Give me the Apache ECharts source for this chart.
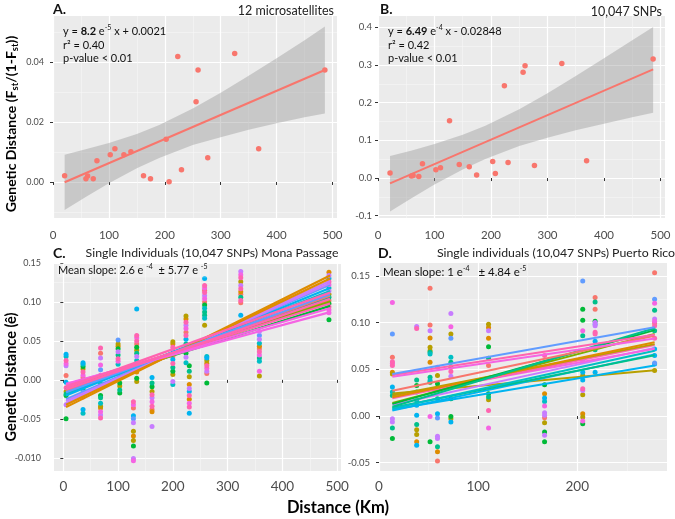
<!DOCTYPE html>
<html><head><meta charset="utf-8">
<script src="https://cdn.jsdelivr.net/npm/echarts@6/dist/echarts.min.js"></script>
<style>html,body{margin:0;padding:0;background:#fff}#c{width:675px;height:519px}</style>
</head><body><div id="c"></div>
<script>
// ---------- data ----------
const palette = ['#F8766D','#DE8C00','#B79F00','#7CAE00','#00BA38','#00C08B','#00BFC4','#00B4F0','#619CFF','#C77CFF','#F564E3','#FF64B0'];

// Panel A: 12 microsatellites
const aX = [20.8, 58.9, 61.9, 72, 78.6, 102.4, 110.7, 126.8, 139.3, 161.9, 174.4, 202.4, 207.7, 223.2, 229.8, 255.9, 259.5, 276.8, 325, 367.9, 486.3];
const aY = [0.0021, 0.0011, 0.0020, 0.0011, 0.0071, 0.0091, 0.0111, 0.0091, 0.0101, 0.0021, 0.0011, 0.0142, 0.0001, 0.0418, 0.0041, 0.0267, 0.0373, 0.0081, 0.0428, 0.0111, 0.0373];
const aFitX = [20.8, 486.3];
const aFitY = [-0.0001, 0.0373];
const aBandX = [20.8, 60, 100, 150, 190, 250, 300, 350, 400, 450, 486.3];
const aBandUp = [0.0091, 0.0110, 0.0130, 0.0160, 0.0190, 0.0245, 0.0297, 0.0354, 0.0412, 0.0472, 0.0518];
const aBandLo = [-0.0093, -0.0048, -0.0004, 0.0046, 0.0080, 0.0123, 0.0149, 0.0174, 0.0196, 0.0216, 0.0228];

// Panel B: 10,047 SNPs
const bX = [21.3, 59.2, 62.1, 72.2, 78.7, 102.4, 110.6, 126.6, 143.8, 161.5, 174.6, 203, 207.7, 223.7, 230.2, 256.8, 260.3, 276.9, 325.4, 369.2, 487];
const bY = [0.0133, 0.0053, 0.0071, 0.0044, 0.038, 0.022, 0.0274, 0.152, 0.036, 0.030, 0.008, 0.044, 0.012, 0.245, 0.041, 0.281, 0.298, 0.033, 0.304, 0.046, 0.316];
const bFitX = [21.3, 487];
const bFitY = [-0.0142, 0.2885];
const bBandX = [21.3, 60, 100, 150, 190, 250, 300, 350, 400, 450, 487];
const bBandUp = [0.0585, 0.0734, 0.0901, 0.1149, 0.1388, 0.1828, 0.2252, 0.2707, 0.3178, 0.3656, 0.401];
const bBandLo = [-0.0885, -0.0526, -0.0173, 0.0229, 0.0508, 0.0848, 0.1072, 0.1267, 0.1444, 0.1616, 0.173];

// Panel C: single individuals, Mona Passage  ([genetic distance, individual])
const cSites = [5, 36, 68, 100, 103, 128, 134, 162, 200, 224, 230, 258, 262, 324, 358, 485];
const cPts = [
  [[0.033,7],[0.030,6],[0.025,11],[0.021,10],[0.018,9],[0.0055,0],[-0.003,7],[-0.010,11],[-0.015,2],[-0.018,5],[-0.020,4],[-0.032,9],[-0.050,4]],
  [[0.022,7],[0.020,6],[0.017,4],[0.014,2],[0.010,11],[0.006,10],[0.003,0],[-0.005,9],[-0.012,5],[-0.016,8],[-0.022,11],[-0.038,7],[-0.043,6]],
  [[0.041,11],[0.034,0],[0.028,9],[0.019,10],[0.013,8],[0.006,11],[-0.005,5],[-0.020,4],[-0.023,5],[-0.030,6],[-0.034,2],[-0.036,1],[-0.041,10],[-0.045,9],[-0.049,11]],
  [[0.051,8],[0.046,2],[0.043,1],[0.040,4],[0.036,9],[0.032,5],[0.027,11],[0.024,10],[0.020,6]],
  [[0.012,7],[0.005,0],[-0.004,4],[-0.008,2],[-0.013,5],[-0.017,4]],
  [[-0.028,11],[-0.032,10],[-0.036,0],[-0.046,7],[-0.050,8],[-0.055,9],[-0.066,2],[-0.072,1],[-0.078,2],[-0.085,4],[-0.101,9],[-0.104,10]],
  [[0.091,7],[0.057,11],[0.054,10],[0.050,11],[0.046,0],[0.042,4],[0.038,2],[0.034,5],[0.030,9],[0.025,6],[0.020,7],[0.010,1],[0.002,4],[-0.002,2]],
  [[0.003,7],[-0.004,5],[-0.009,4],[-0.015,2],[-0.019,11],[-0.023,9],[-0.028,10],[-0.034,11],[-0.038,0],[-0.041,1],[-0.060,9]],
  [[0.049,2],[0.046,1],[0.042,11],[0.038,9],[0.034,10],[0.030,0],[0.026,7],[0.021,11],[0.016,5],[0.011,4],[0.007,2],[-0.002,9],[-0.006,6]],
  [[0.082,2],[0.078,1],[0.074,11],[0.070,9],[0.066,10],[0.061,0],[0.057,11],[0.052,7],[0.046,5],[0.040,1],[0.034,4],[0.029,9],[0.022,6]],
  [[0.018,4],[0.011,5],[0.004,2],[-0.006,1],[-0.011,9],[-0.015,7],[-0.020,11],[-0.025,1],[-0.030,10],[-0.035,11],[-0.043,7]],
  [[0.130,7],[0.121,11],[0.118,10],[0.115,0],[0.112,11],[0.108,9],[0.104,10],[0.100,0],[0.096,4],[0.092,6],[0.087,5],[0.083,5],[0.079,6],[0.070,2]],
  [[0.030,6],[0.028,7],[0.025,2],[0.021,1],[0.018,11],[0.015,10],[0.011,9],[0.008,0],[-0.004,4]],
  [[0.139,9],[0.135,10],[0.131,11],[0.126,2],[0.121,9],[0.117,11],[0.113,1],[0.110,0],[0.106,5],[0.102,11],[0.099,0],[0.083,7]],
  [[0.062,9],[0.057,8],[0.052,9],[0.047,6],[0.043,1],[0.040,0],[0.036,11],[0.032,10],[0.028,5],[0.024,6],[0.011,10],[0.005,2]],
  [[0.138,1],[0.134,9],[0.130,7],[0.126,11],[0.122,10],[0.118,6],[0.114,9],[0.110,2],[0.106,5],[0.102,0],[0.098,4],[0.094,11],[0.090,10],[0.086,10],[0.077,4]]
];
const cLineX = [5, 487];
// [y at left end, y at right end, individual]
const cLines = [
  [-0.012,0.095,4],[-0.016,0.102,2],[-0.010,0.100,3],[-0.015,0.106,5],[-0.014,0.108,0],
  [-0.018,0.114,6],[-0.020,0.118,7],[-0.025,0.122,8],[-0.027,0.124,9],[-0.030,0.127,9],
  [-0.032,0.130,1],[-0.035,0.134,1],[-0.016,0.110,8],[-0.005,0.087,10],[-0.006,0.092,10],
  [-0.008,0.098,11],[-0.012,0.104,11],[-0.010,0.112,11]
];

// Panel D: single individuals, Puerto Rico
const dSites = [13.5, 38, 51.5, 59, 72.5, 110.5, 167, 205.5, 218, 278];
const dPts = [
  [[0.1215,10],[0.0878,8],[0.0629,0],[0.058,11],[0.0565,10],[0.054,11],[0.0469,1],[0.0451,2],[0.031,7],[0.0256,6],[0.022,5],[-0.003,9],[-0.0064,9],[-0.0128,5],[-0.0242,4]],
  [[0.0959,9],[0.0938,11],[0.0387,5],[0.0327,4],[0.0256,5],[0.0167,6],[0.0114,7],[0.0007,7],[-0.0092,5],[-0.0146,2],[-0.0199,2],[-0.0277,1],[-0.0313,7]],
  [[0.1368,0],[0.0974,0],[0.0913,9],[0.0835,1],[0.0736,2],[0.070,2],[0.0682,5],[0.0665,6],[0.0576,1],[0.0416,5],[0.038,6],[0.0362,4],[-0.0004,10],[-0.0277,4]],
  [[0.0522,11],[0.0434,2],[0.0345,4],[0.0185,5],[0.0025,7],[-0.0021,8],[-0.0217,9],[-0.0242,9],[-0.033,5],[-0.0384,1],[-0.0483,0]],
  [[0.1098,9],[0.0956,10],[0.0878,2],[0.0832,8],[0.0629,6],[0.0576,5],[0.0522,2],[0.0476,11],[0.0426,9],[0.0185,4],[-0.0004,4],[-0.0028,2],[-0.0064,7]],
  [[0.0984,2],[0.0949,1],[0.0913,9],[0.0832,1],[0.0743,4],[0.0618,5],[0.054,0],[0.0238,4],[0.0203,5],[0.0174,2],[0.006,11],[-0.0128,10]],
  [[0.0647,11],[0.0334,4],[0.0238,1],[0.0192,7],[0.0156,6],[0.0107,10],[0.0036,9],[0.0007,9],[-0.0018,0],[-0.0071,2],[-0.0171,4],[-0.0206,9],[-0.0277,4]],
  [[0.1446,8],[0.1144,4],[0.1027,4],[0.0913,10],[0.086,5],[0.0593,9],[0.0469,7],[0.0434,2],[0.0387,7],[0.0291,11],[0.0274,9],[0.0227,2],[0.0025,1],[-0.0011,2],[-0.0053,10],[-0.0082,4]],
  [[0.1269,0],[0.1222,5],[0.1144,0],[0.1016,4],[0.1002,9],[0.0984,8],[0.0967,9],[0.0896,11],[0.0878,11],[0.080,7],[0.0711,5],[0.0469,7]],
  [[0.1535,0],[0.1251,8],[0.1208,10],[0.1134,5],[0.1038,9],[0.1013,10],[0.0995,0],[0.0967,11],[0.0913,5],[0.0832,11],[0.0718,7],[0.0647,7],[0.0569,8],[0.0558,7],[0.0487,2]]
];
const dLineX = [13.5, 278];
const dLines = [
  [0.024,0.049,2],[0.007,0.054,7],[0.006,0.066,7],[0.009,0.065,5],[0.008,0.070,6],
  [0.012,0.073,9],[0.021,0.072,10],[0.019,0.076,11],[0.022,0.077,2],[0.020,0.079,1],
  [0.014,0.088,3],[0.013,0.092,4],[0.010,0.094,5],[0.027,0.086,0],[0.042,0.083,10],
  [0.044,0.087,11],[0.045,0.095,8]
];

// tick values / labels
const abXTicks = [0, 100, 200, 300, 400, 500];
const abXLabels = ['0', '100', '200', '300', '400', '500'];
const aYTicks = [0, 0.02, 0.04];
const aYLabels = ['0.00', '0.02', '0.04'];
const bYTicks = [-0.1, 0, 0.1, 0.2, 0.3, 0.4];
const bYLabels = ['-0.1', '0.0', '0.1', '0.2', '0.3', '0.4'];
const cXTicks = [0, 100, 200, 300, 400, 500];
const cXLabels = ['0', '100', '200', '300', '400', '500'];
const cYTicks = [-0.1, -0.05, 0, 0.05, 0.1, 0.15];
const cYLabels = ['-0.010', '-0.05', '0.00', '0.05', '0.10', '0.15'];
const dXTicks = [0, 100, 200];
const dXLabels = ['0', '100', '200'];
const dYTicks = [-0.05, 0, 0.05, 0.1, 0.15];
const dYLabels = ['-0.05', '0.00', '0.05', '0.10', '0.15'];

// ---------- chart ----------
const FONT = 'Lato, "Open Sans", sans-serif';
const BG = '#EBEBEB';

function labelFor(v, ticks, labels) {
  for (let i = 0; i < ticks.length; i++) if (Math.abs(ticks[i] - v) < 1e-7) return labels[i];
  return '';
}
function axis(gi, min, max, splitNumber, ticks, labels, fontSize, margin) {
  return {
    type: 'value', gridIndex: gi, min: min, max: max, splitNumber: splitNumber,
    axisLine: { show: false },
    axisTick: { show: true, length: 3, lineStyle: { color: '#333', width: 1 }, customValues: ticks },
    axisLabel: { customValues: ticks, formatter: v => labelFor(v, ticks, labels), fontSize: fontSize, color: '#4d4d4d', margin: margin, fontFamily: FONT },
    splitLine: { show: true, lineStyle: { color: '#ffffff', width: 1.2 } },
    minorTick: { show: false, splitNumber: 2 },
    minorSplitLine: { show: true, lineStyle: { color: '#f6f6f6', width: 0.6 } }
  };
}

const grids = [
  { left: 53, top: 16, width: 284, height: 202 },
  { left: 378, top: 16, width: 287, height: 202 },
  { left: 54, top: 263, width: 287, height: 208 },
  { left: 379, top: 263, width: 288, height: 208 }
].map(g => Object.assign({ show: true, backgroundColor: BG, borderWidth: 0, containLabel: false }, g));

const xAxes = [
  axis(0, 0, 508, 5, abXTicks, abXLabels, 11.5, 11),
  axis(1, 0, 508, 5, abXTicks, abXLabels, 11.5, 11),
  axis(2, -17, 507, 5, cXTicks, cXLabels, 13.5, 9),
  axis(3, 0, 290.5, 3, dXTicks, dXLabels, 13.5, 9)
];
const yAxes = [
  axis(0, -0.012, 0.0553, 3, aYTicks, aYLabels, 9, 9),
  axis(1, -0.106, 0.430, 5, bYTicks, bYLabels, 9.5, 6),
  axis(2, -0.117, 0.150, 5, cYTicks, cYLabels, 9, 13),
  axis(3, -0.0589, 0.1639, 4, dYTicks, dYLabels, 9.5, 9)
];

function band(gi, bx, up, lo) {
  return {
    type: 'custom', xAxisIndex: gi, yAxisIndex: gi, data: [[bx[0], up[0]]], z: 1, silent: true,
    renderItem: function (params, api) {
      const pts = [];
      for (let i = 0; i < bx.length; i++) pts.push(api.coord([bx[i], up[i]]));
      for (let i = bx.length - 1; i >= 0; i--) pts.push(api.coord([bx[i], lo[i]]));
      return { type: 'polygon', shape: { points: pts, smooth: 0 }, style: { fill: 'rgba(153,153,153,0.42)', stroke: null } };
    }
  };
}
function fit(gi, fx, fy) {
  return { type: 'line', xAxisIndex: gi, yAxisIndex: gi, data: fx.map((x, i) => [x, fy[i]]), symbol: 'none', z: 2, silent: true,
    lineStyle: { color: '#F8766D', width: 2 } };
}
function pts(gi, xs, ys) {
  return { type: 'scatter', xAxisIndex: gi, yAxisIndex: gi, data: xs.map((x, i) => [x, ys[i]]), symbolSize: 5.5, z: 3, silent: true,
    itemStyle: { color: '#F8766D', opacity: 1 } };
}
function indivPoints(gi, sites, ptsArr) {
  const out = [];
  for (let k = 0; k < palette.length; k++) {
    const data = [];
    sites.forEach((s, i) => ptsArr[i].forEach(p => { if (p[1] === k) data.push([s, p[0]]); }));
    out.push({ type: 'scatter', xAxisIndex: gi, yAxisIndex: gi, data: data, symbolSize: 5, z: 2, silent: true,
      itemStyle: { color: palette[k], opacity: 1 } });
  }
  return out;
}
function indivLines(gi, lx, lines, w) {
  return lines.map(l => ({ type: 'line', xAxisIndex: gi, yAxisIndex: gi, data: [[lx[0], l[0]], [lx[1], l[1]]], symbol: 'none', z: 3, silent: true,
    lineStyle: { color: palette[l[2]], width: w } }));
}

const series = [].concat(
  [band(0, aBandX, aBandUp, aBandLo), fit(0, aFitX, aFitY), pts(0, aX, aY)],
  [band(1, bBandX, bBandUp, bBandLo), fit(1, bFitX, bFitY), pts(1, bX, bY)],
  indivPoints(2, cSites, cPts), indivLines(2, cLineX, cLines, 2.2),
  indivPoints(3, dSites, dPts), indivLines(3, dLineX, dLines, 2)
);

function txt(x, y, text, o) {
  const st = Object.assign({ text: text, fontFamily: FONT, fontSize: 10, fill: '#111',
    align: 'left', verticalAlign: 'middle', textAlign: 'left', textVerticalAlign: 'middle' }, o || {});
  if (st.align) st.textAlign = st.align;
  return { type: 'text', x: x, y: y, z: 100, silent: true, rotation: st.rot || 0, style: st };
}
function supRich(fs) {
  return { b: { fontWeight: 'bold', fontSize: fs, fontFamily: FONT }, sup: { fontSize: 7, verticalAlign: 'top', fontFamily: FONT } };
}

const graphics = [
  txt(53, 9, 'A.', { fontSize: 14, fontWeight: 'bold' }),
  txt(334, 11, '12 microsatellites', { fontSize: 12.5, align: 'right', fill: '#222' }),
  txt(380, 9, 'B.', { fontSize: 14, fontWeight: 'bold' }),
  txt(662, 12, '10,047 SNPs', { fontSize: 12.5, align: 'right', fill: '#222' }),
  txt(53, 253, 'C.', { fontSize: 14, fontWeight: 'bold' }),
  txt(212, 253, 'Single Individuals (10,047 SNPs) Mona Passage', { fontSize: 12.3, align: 'center', fill: '#222' }),
  txt(378, 253, 'D.', { fontSize: 14, fontWeight: 'bold' }),
  txt(556, 253, 'Single individuals (10,047 SNPs) Puerto Rico', { fontSize: 12.3, align: 'center', fill: '#222' }),
  txt(63, 31, 'y = {b|8.2} e{sup|-5} x + 0.0021', { fontSize: 11, lineHeight: 13, rich: supRich(11) }),
  txt(63, 45, 'r² = 0.40', { fontSize: 11 }),
  txt(63, 58.5, 'p-value < 0.01', { fontSize: 11 }),
  txt(388, 31, 'y = {b|6.49} e{sup|-4} x - 0.02848', { fontSize: 11, lineHeight: 13, rich: supRich(11) }),
  txt(388, 45, 'r² = 0.42', { fontSize: 11 }),
  txt(388, 58.5, 'p-value < 0.01', { fontSize: 11 }),
  txt(57, 270, 'Mean slope: 2.6 e {sup|-4}  ± 5.77 e {sup|-5}', { fontSize: 11, lineHeight: 13, rich: supRich(11),
    backgroundColor: 'rgba(255,255,255,0.25)', padding: [1, 2, 1, 1] }),
  txt(383, 272, 'Mean slope: 1 e{sup|-4}   ± 4.84 e{sup|-5}', { fontSize: 11.5, lineHeight: 13, rich: supRich(11.5) }),
  txt(338, 508, 'Distance (Km)', { fontSize: 16.5, fontWeight: 'bold', align: 'center', fill: '#000' }),
  txt(11, 124, 'Genetic Distance (F{sub|st}/(1-F{sub|st}))', { fontSize: 14, fontWeight: 'bold', align: 'center', fill: '#000', rot: Math.PI / 2,
    lineHeight: 18, rich: { sub: { fontSize: 9.5, fontWeight: 'bold', verticalAlign: 'bottom', fontFamily: FONT } } }),
  txt(11, 377, 'Genetic Distance (ê)', { fontSize: 14.5, fontWeight: 'bold', align: 'center', fill: '#000', rot: Math.PI / 2 })
];

const chart = echarts.init(document.getElementById('c'), null, { renderer: 'canvas' });
chart.setOption({
  animation: false,
  backgroundColor: '#fff',
  grid: grids,
  xAxis: xAxes,
  yAxis: yAxes,
  series: series,
  graphic: graphics
});
</script></body></html>
